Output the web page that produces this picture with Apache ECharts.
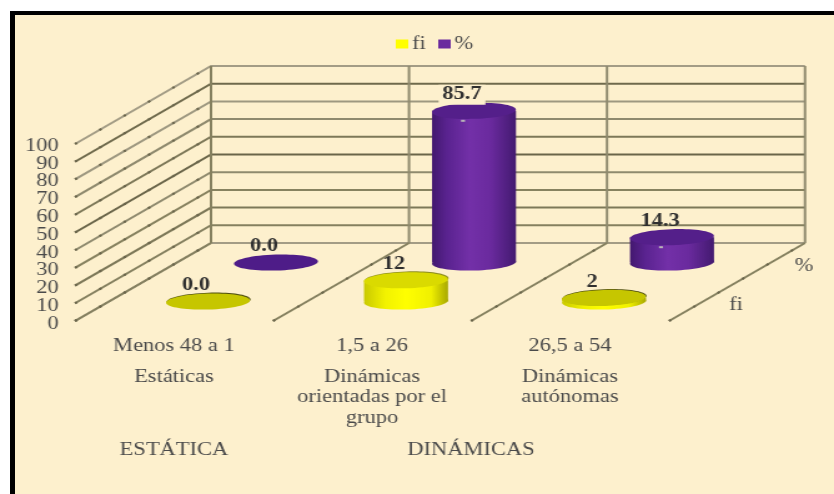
<!DOCTYPE html>
<html>
<head>
<meta charset="utf-8">
<style>
html,body{margin:0;padding:0;background:#fff;overflow:hidden;width:834px;height:494px}
#frame{position:absolute;left:10px;top:11px;right:0;bottom:0;border-left:5px solid #000;border-top:4px solid #000;background:#FDF0CD}
#chart{position:absolute;left:0;top:0;width:668px;height:494px;transform:scaleX(1.2485);transform-origin:0 0}
</style>
<script src="https://cdn.jsdelivr.net/npm/echarts@6/dist/echarts.min.js"></script>
</head>
<body>
<div id="frame"></div>
<div id="chart"></div>
<script>
const rangeLabels = ['Menos 48 a 1', '1,5 a 26', '26,5 a 54'];
const typeLabels = ['Estáticas', 'Dinámicas\norientadas por el\ngrupo', 'Dinámicas\nautónomas'];
const groupLabels = [['ESTÁTICA', 0, 0], ['DINÁMICAS', 1, 2]];
const fiValues = [0, 12, 2];
const pctValues = [0, 85.7, 14.3];
const valueTicks = [0, 10, 20, 30, 40, 50, 60, 70, 80, 90, 100];
const gridTones = ['#A39C85', '#85805F', '#7D7858', '#87825F', '#8F8A6E', '#6A6549', '#7D7858', '#8F8A6E', '#9E9880', '#6F6A4C', '#A39C85'];
const depthNames = ['fi', '%'];

const SX = 834 / 668;
const DEPTH_X = 136 / SX, DEPTH_Y = 78;
const RX = 42 / SX, RY = 8;
const SERIF = '"Liberation Serif","Times New Roman",serif';
const TEXT = '#4A4A4A';
const FS = 18;

function band(api) { return api.size([1, 0])[0]; }

function renderWall(params, api) {
  const t = api.value(1);
  const p0 = api.coord([0, t]), pN = api.coord([rangeLabels.length - 1, t]);
  const b = band(api);
  const a = [p0[0] - b / 2, p0[1]];
  const c = [a[0] + DEPTH_X, a[1] - DEPTH_Y];
  const d = [pN[0] + b / 2 + DEPTH_X, c[1]];
  const tone = gridTones[params.dataIndex];
  return { type: 'group', children: [
    { type: 'polyline', shape: { points: [a, c, d] }, style: { fill: 'none', stroke: tone, lineWidth: 2 } },
    { type: 'line', shape: { x1: a[0], y1: a[1], x2: c[0], y2: c[1] }, style: { stroke: '#6B664C', lineWidth: 2.2, lineDash: [2, 22] } }
  ] };
}

function renderDivider(params, api) {
  const i = api.value(0);
  const b = band(api);
  const low = api.coord([0, 0]), high = api.coord([0, 100]);
  const x = low[0] - b / 2 + i * b;
  const back = x + DEPTH_X;
  const floorY = low[1] - DEPTH_Y, topY = high[1] - DEPTH_Y;
  const children = [
    { type: 'line', shape: { x1: x, y1: low[1], x2: back, y2: floorY }, style: { stroke: '#85805F', lineWidth: 2 } },
    { type: 'line', shape: { x1: x, y1: low[1], x2: back, y2: floorY }, style: { stroke: '#6B664C', lineWidth: 2.2, lineDash: [2, 22] } },
    { type: 'line', shape: { x1: back, y1: floorY, x2: back, y2: topY }, style: { stroke: i === 0 ? '#85805F' : '#8F8A6E', lineWidth: 2 } }
  ];
  return { type: 'group', children };
}

function cylinder(opts) {
  return function (params, api) {
    const cat = api.value(0), val = api.value(1);
    const base = api.coord([cat, 0]), top = api.coord([cat, val]);
    const cx = base[0] + DEPTH_X * opts.depth;
    const by = base[1] - DEPTH_Y * opts.depth;
    const ty = top[1] - DEPTH_Y * opts.depth;
    const body = { type: 'linear', x: 0, y: 0, x2: 1, y2: 0, colorStops: opts.stops };
    const kids = [];
    if (val > 0) {
      kids.push({ type: 'ellipse', x: cx, y: by, rotation: 0.04, shape: { cx: 0, cy: 0, rx: RX, ry: RY }, style: { fill: body } });
      kids.push({ type: 'rect', shape: { x: cx - RX, y: ty, width: 2 * RX, height: by - ty }, style: { fill: body } });
    }
    if (opts.rim) {
      kids.push({ type: 'ellipse', x: cx + 0.5, y: ty - 0.8, rotation: 0.04, shape: { cx: 0, cy: 0, rx: RX, ry: RY }, style: { fill: val > 5 ? '#8E8E20' : opts.rim } });
    }
    const capFill = val > 5 || !opts.flatCap ? opts.cap : opts.flatCap;
    kids.push({ type: 'ellipse', x: cx, y: ty, rotation: 0.04, shape: { cx: 0, cy: 0, rx: RX, ry: RY }, style: { fill: capFill } });
    if (opts.tick && val > 0) {
      kids.push({ type: 'rect', shape: { x: cx - 13 / SX, y: ty + 9, width: 4 / SX, height: 2 }, style: { fill: '#B9B4B8' } });
    }
    const label = {
      type: 'text',
      style: {
        text: opts.format(val),
        x: cx - 12 / SX, y: ty - 16,
        align: 'center', verticalAlign: 'middle',
        fontFamily: SERIF, fontSize: FS, fontWeight: 'bold', fill: '#2F2F2F',
        backgroundColor: val > 50 ? '#FDF0CD' : undefined,
        padding: val > 50 ? [1, 3, 1, 3] : 0
      }
    };
    kids.push(label);
    return { type: 'group', children: kids };
  };
}

function renderGroup(params, api) {
  const item = groupLabels[params.dataIndex];
  const a = api.coord([item[1], 0]), b = api.coord([item[2], 0]);
  return { type: 'text', style: {
    text: item[0], x: (a[0] + b[0]) / 2, y: a[1] + 129,
    align: 'center', verticalAlign: 'middle', fontFamily: SERIF, fontSize: FS, fill: TEXT
  } };
}

function renderDepthName(params, api) {
  const b = band(api);
  const p = api.coord([rangeLabels.length - 1, 0]);
  const f = params.dataIndex === 0 ? 0.25 : 0.75;
  return { type: 'text', style: {
    text: depthNames[params.dataIndex],
    x: p[0] + b / 2 + DEPTH_X * f + 33 / SX,
    y: p[1] - DEPTH_Y * f + 4,
    align: 'center', verticalAlign: 'middle', fontFamily: SERIF, fontSize: FS, fill: TEXT
  } };
}

const chart = echarts.init(document.getElementById('chart'), null, { renderer: 'canvas' });
chart.setOption({
  backgroundColor: 'transparent',
  animation: false,
  legend: {
    data: ['fi', '%'], left: 312, top: 30, icon: 'rect', itemWidth: 10, itemHeight: 9, itemGap: 10,
    textStyle: { fontFamily: SERIF, fontSize: FS, color: TEXT, padding: [0, 0, 0, -2] }
  },
  grid: [
    { left: 75 / SX, width: 594 / SX, top: 144, height: 177 },
    { left: 75 / SX, width: 594 / SX, top: 146, height: 178 }
  ],
  xAxis: [{
    type: 'category', data: rangeLabels,
    axisLine: { show: false }, axisTick: { show: false },
    axisLabel: {
      interval: 0, margin: 5, verticalAlign: 'top', width: 190, overflow: 'none',
      color: TEXT, fontFamily: SERIF, fontSize: FS,
      formatter: function (value, i) {
        const rows = typeLabels[i].split('\n').map(s => '{b|' + s + '}').join('\n');
        return '{a|' + value + '}\n' + rows;
      },
      rich: {
        a: { fontFamily: SERIF, fontSize: FS, color: TEXT, lineHeight: 41, align: 'center' },
        b: { fontFamily: SERIF, fontSize: FS, color: TEXT, lineHeight: 20.5, align: 'center' }
      }
    }
  }, { type: 'value', gridIndex: 1, show: false }],
  yAxis: [{
    type: 'value', min: 0, max: 100, interval: 10,
    splitLine: { show: false }, axisLine: { show: false }, axisTick: { show: false }, axisLabel: { show: false }
  }, {
    type: 'category', gridIndex: 1, data: valueTicks.map(String), boundaryGap: false,
    splitLine: { show: false }, axisLine: { show: false }, axisTick: { show: false },
    axisLabel: { interval: 0, margin: 13, color: TEXT, fontFamily: SERIF, fontSize: FS }
  }],
  series: [
    { type: 'custom', z: 1, silent: true, renderItem: renderWall, encode: { x: 0, y: 1 }, data: valueTicks.map(t => [0, t]) },
    { type: 'custom', z: 1, silent: true, renderItem: renderDivider, encode: { x: 0 }, data: [0, 1, 2, 3].map(i => [i, 0]) },
    { type: 'custom', z: 1, silent: true, renderItem: renderGroup, encode: { x: 0, y: 1 }, data: groupLabels.map((g, i) => [i, 0]) },
    { type: 'custom', z: 1, silent: true, renderItem: renderDepthName, encode: { x: 0, y: 1 }, data: depthNames.map((g, i) => [i, 0]) },
    {
      type: 'custom', name: '%', z: 2, silent: true, itemStyle: { color: '#6A2A9E' }, encode: { x: 0, y: 1 },
      data: pctValues.map((v, i) => [i, v]),
      renderItem: cylinder({
        depth: 0.75, cap: '#541F8A', flatCap: '#4E1C88', tick: true,
        stops: [{ offset: 0, color: '#43186F' }, { offset: 0.18, color: '#5A2390' }, { offset: 0.45, color: '#7330A8' }, { offset: 0.7, color: '#6A2A9E' }, { offset: 1, color: '#431A70' }],
        format: v => v.toFixed(1)
      })
    },
    {
      type: 'custom', name: 'fi', z: 3, silent: true, itemStyle: { color: '#FFFF00' }, encode: { x: 0, y: 1 },
      data: fiValues.map((v, i) => [i, v]),
      renderItem: cylinder({
        depth: 0.25, cap: '#DADA00', flatCap: '#C6C600', rim: '#4F4F10',
        stops: [{ offset: 0, color: '#C9C900' }, { offset: 0.25, color: '#F2F200' }, { offset: 0.5, color: '#FFFF00' }, { offset: 0.8, color: '#F0F000' }, { offset: 1, color: '#A8A800' }],
        format: v => v === 0 ? v.toFixed(1) : String(v)
      })
    }
  ]
});
</script>
</body>
</html>
